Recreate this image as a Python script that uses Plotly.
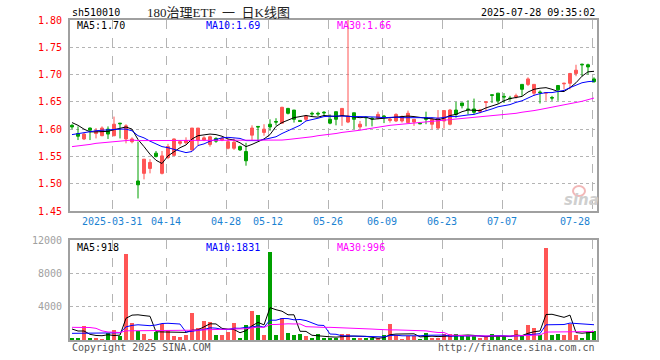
import plotly.graph_objects as go

DAYS = ("03-20 03-21 03-24 03-25 03-26 03-27 03-28 03-31 "
        "04-01 04-02 04-03 04-07 04-08 04-09 04-10 04-11 04-14 04-15 04-16 04-17 04-18 "
        "04-21 04-22 04-23 04-24 04-25 04-28 04-29 04-30 "
        "05-06 05-07 05-08 05-09 05-12 05-13 05-14 05-15 05-16 05-19 05-20 05-21 05-22 05-23 "
        "05-26 05-27 05-28 05-29 05-30 "
        "06-03 06-04 06-05 06-06 06-09 06-10 06-11 06-12 06-13 06-16 06-17 06-18 06-19 06-20 "
        "06-23 06-24 06-25 06-26 06-27 06-30 "
        "07-01 07-02 07-03 07-04 07-07 07-08 07-09 07-10 07-11 07-14 07-15 07-16 07-17 07-18 "
        "07-21 07-22 07-23 07-24 07-25 07-28").split()
dates = ["2025-" + d for d in DAYS]

tick_dates = ["2025-03-31", "2025-04-14", "2025-04-28", "2025-05-12", "2025-05-26",
              "2025-06-09", "2025-06-23", "2025-07-07", "2025-07-28"]
tick_text = ["2025-03-31", "04-14", "04-28", "05-12", "05-26", "06-09", "06-23", "07-07", "07-28"]

price_ticks = [1.45, 1.50, 1.55, 1.60, 1.65, 1.70, 1.75, 1.80]
vol_ticks = [4000, 8000, 12000]

# legend values as printed on the chart
ma_price_labels = ["MA5:1.70", "MA10:1.69", "MA30:1.66"]
ma_vol_labels = ["MA5:918", "MA10:1831", "MA30:996"]

open_ = [1.607, 1.592, 1.582, 1.602, 1.592, 1.588, 1.600, 1.588, 1.611, 1.582,
         1.577, 1.505, 1.519, 1.528, 1.556, 1.519, 1.548, 1.552, 1.574, 1.575,
         1.562, 1.579, 1.580, 1.572, 1.583, 1.580, 1.565, 1.565, 1.568, 1.559,
         1.589, 1.605, 1.594, 1.609, 1.614, 1.611, 1.638, 1.635, 1.616, 1.618,
         1.629, 1.629, 1.631, 1.618, 1.632, 1.624, 1.613, 1.630, 1.604, 1.622,
         1.620, 1.620, 1.624, 1.616, 1.615, 1.615, 1.612, 1.613, 1.611, 1.621,
         1.609, 1.602, 1.615, 1.609, 1.635, 1.648, 1.637, 1.637, 1.632, 1.649,
         1.663, 1.666, 1.660, 1.657, 1.659, 1.682, 1.682, 1.666, 1.668, 1.666,
         1.658, 1.680, 1.683, 1.684, 1.702, 1.719, 1.718, 1.692]
high = [1.609, 1.605, 1.593, 1.603, 1.602, 1.605, 1.605, 1.623, 1.611, 1.609,
        1.585, 1.577, 1.545, 1.545, 1.560, 1.560, 1.573, 1.583, 1.580, 1.585,
        1.602, 1.602, 1.587, 1.588, 1.585, 1.585, 1.582, 1.583, 1.570, 1.575,
        1.607, 1.605, 1.609, 1.618, 1.620, 1.641, 1.639, 1.635, 1.616, 1.626,
        1.632, 1.632, 1.633, 1.627, 1.632, 1.638, 1.800, 1.630, 1.615, 1.622,
        1.622, 1.632, 1.626, 1.621, 1.629, 1.625, 1.634, 1.618, 1.611, 1.632,
        1.621, 1.635, 1.635, 1.637, 1.650, 1.648, 1.653, 1.656, 1.637, 1.650,
        1.663, 1.666, 1.666, 1.661, 1.665, 1.682, 1.695, 1.682, 1.671, 1.667,
        1.661, 1.680, 1.685, 1.703, 1.718, 1.720, 1.720, 1.695]
low = [1.600, 1.580, 1.580, 1.580, 1.583, 1.587, 1.582, 1.587, 1.583, 1.574,
       1.574, 1.473, 1.508, 1.519, 1.548, 1.517, 1.545, 1.551, 1.570, 1.572,
       1.560, 1.569, 1.578, 1.568, 1.575, 1.578, 1.563, 1.562, 1.560, 1.533,
       1.580, 1.579, 1.588, 1.597, 1.607, 1.610, 1.627, 1.612, 1.613, 1.615,
       1.624, 1.624, 1.624, 1.609, 1.607, 1.606, 1.611, 1.600, 1.600, 1.605,
       1.605, 1.618, 1.611, 1.612, 1.613, 1.612, 1.611, 1.606, 1.609, 1.609,
       1.600, 1.600, 1.601, 1.607, 1.621, 1.638, 1.627, 1.627, 1.629, 1.633,
       1.648, 1.647, 1.648, 1.652, 1.656, 1.661, 1.679, 1.661, 1.647, 1.652,
       1.652, 1.652, 1.673, 1.673, 1.697, 1.697, 1.700, 1.685]
close = [1.604, 1.587, 1.591, 1.598, 1.597, 1.602, 1.591, 1.609, 1.610, 1.606,
         1.582, 1.498, 1.545, 1.539, 1.550, 1.551, 1.568, 1.582, 1.577, 1.579,
         1.602, 1.602, 1.584, 1.586, 1.578, 1.583, 1.577, 1.576, 1.562, 1.542,
         1.602, 1.604, 1.600, 1.604, 1.613, 1.640, 1.629, 1.618, 1.614, 1.624,
         1.628, 1.628, 1.630, 1.611, 1.618, 1.638, 1.624, 1.618, 1.609, 1.621,
         1.619, 1.627, 1.623, 1.618, 1.627, 1.623, 1.629, 1.618, 1.610, 1.618,
         1.618, 1.620, 1.634, 1.635, 1.627, 1.643, 1.636, 1.631, 1.635, 1.650,
         1.662, 1.652, 1.659, 1.656, 1.661, 1.673, 1.692, 1.682, 1.667, 1.667,
         1.657, 1.672, 1.684, 1.702, 1.708, 1.718, 1.714, 1.687]
volume = [280, 280, 1680, 280, 200, 120, 880, 1200, 520, 10320,
          2000, 1080, 720, 120, 1000, 1920, 1200, 480, 320, 640,
          3240, 1400, 2280, 2160, 560, 560, 960, 2040, 240, 1800,
          3480, 3000, 560, 10560, 560, 2600, 840, 560, 680, 480,
          280, 680, 200, 280, 280, 760, 720, 280, 200, 200,
          200, 200, 600, 1960, 600, 120, 520, 520, 120, 840,
          280, 280, 680, 680, 760, 440, 440, 440, 200, 440,
          760, 440, 440, 120, 1200, 440, 1800, 1400, 560, 11080,
          600, 760, 600, 1880, 600, 240, 920, 1080]

ma5 = [1.612, 1.607, 1.600, 1.595, 1.595, 1.595, 1.596, 1.599, 1.602, 1.604,
       1.600, 1.581, 1.568, 1.554, 1.543, 1.537, 1.551, 1.558, 1.566, 1.571,
       1.582, 1.588, 1.589, 1.591, 1.590, 1.587, 1.582, 1.580, 1.575, 1.568,
       1.572, 1.577, 1.582, 1.590, 1.605, 1.612, 1.617, 1.621, 1.623, 1.625,
       1.623, 1.622, 1.625, 1.624, 1.623, 1.625, 1.624, 1.622, 1.621, 1.622,
       1.618, 1.619, 1.620, 1.622, 1.623, 1.624, 1.624, 1.623, 1.621, 1.620,
       1.619, 1.617, 1.620, 1.625, 1.627, 1.632, 1.635, 1.634, 1.634, 1.639,
       1.643, 1.646, 1.652, 1.656, 1.658, 1.660, 1.668, 1.673, 1.675, 1.676,
       1.673, 1.669, 1.669, 1.676, 1.685, 1.697, 1.705, 1.706]
ma10 = [1.590, 1.592, 1.594, 1.596, 1.597, 1.598, 1.599, 1.600, 1.600, 1.600,
        1.597, 1.588, 1.584, 1.578, 1.573, 1.568, 1.566, 1.563, 1.560, 1.557,
        1.559, 1.570, 1.573, 1.578, 1.581, 1.584, 1.585, 1.584, 1.583, 1.579,
        1.579, 1.579, 1.581, 1.583, 1.586, 1.592, 1.597, 1.601, 1.607, 1.615,
        1.617, 1.620, 1.623, 1.624, 1.624, 1.624, 1.623, 1.623, 1.623, 1.623,
        1.622, 1.622, 1.621, 1.622, 1.622, 1.621, 1.621, 1.621, 1.622, 1.621,
        1.621, 1.620, 1.622, 1.623, 1.623, 1.625, 1.626, 1.627, 1.630, 1.633,
        1.637, 1.641, 1.643, 1.645, 1.649, 1.652, 1.657, 1.662, 1.665, 1.667,
        1.667, 1.669, 1.671, 1.676, 1.680, 1.685, 1.687, 1.688]
ma30 = [1.568, 1.569, 1.571, 1.572, 1.574, 1.575, 1.576, 1.577, 1.578, 1.579,
        1.580, 1.579, 1.579, 1.579, 1.579, 1.579, 1.579, 1.579, 1.579, 1.579,
        1.579, 1.579, 1.579, 1.579, 1.579, 1.579, 1.579, 1.579, 1.579, 1.579,
        1.579, 1.579, 1.579, 1.579, 1.579, 1.580, 1.581, 1.582, 1.583, 1.585,
        1.586, 1.588, 1.589, 1.591, 1.592, 1.594, 1.595, 1.597, 1.598, 1.600,
        1.602, 1.604, 1.606, 1.607, 1.608, 1.609, 1.610, 1.611, 1.612, 1.613,
        1.614, 1.615, 1.617, 1.618, 1.619, 1.620, 1.621, 1.622, 1.623, 1.624,
        1.625, 1.626, 1.627, 1.628, 1.629, 1.631, 1.632, 1.634, 1.636, 1.638,
        1.640, 1.642, 1.644, 1.646, 1.648, 1.651, 1.654, 1.657]

vma5 = [1320, 1080, 1080, 680, 544, 512, 632, 536, 584, 2608,
        2984, 3024, 2928, 2848, 984, 968, 992, 944, 984, 912,
        1176, 1216, 1576, 1944, 1928, 1392, 1304, 1256, 872, 1120,
        1704, 2112, 1816, 3880, 3632, 3456, 3024, 3024, 1048, 1032,
        568, 536, 464, 384, 344, 440, 448, 464, 448, 432,
        320, 216, 280, 632, 712, 696, 760, 744, 376, 424,
        456, 408, 440, 552, 536, 568, 600, 552, 456, 392,
        456, 456, 456, 440, 592, 528, 800, 992, 1080, 3056,
        3088, 2880, 2720, 2984, 888, 816, 848, 944]
vma10 = [800, 800, 820, 820, 800, 800, 820, 840, 860, 1576,
         1748, 1828, 1732, 1716, 1796, 1976, 2008, 1936, 1916, 948,
         1072, 1104, 1260, 1464, 1420, 1284, 1260, 1416, 1408, 1524,
         1548, 1708, 1536, 2376, 2376, 2580, 2568, 2420, 2464, 2332,
         2012, 1780, 1744, 716, 688, 504, 492, 464, 416, 388,
         380, 332, 372, 540, 572, 508, 488, 512, 504, 568,
         576, 584, 592, 464, 480, 512, 504, 496, 504, 464,
         512, 528, 504, 448, 492, 492, 628, 724, 760, 1824,
         1808, 1840, 1856, 2032, 1972, 1952, 1864, 1832]
vma30 = [1520, 1520, 1520, 1500, 1400, 1100, 960, 920, 900, 1100,
         1100, 1100, 1100, 1100, 1100, 1100, 1100, 1100, 1100, 1120,
         1140, 1180, 1220, 1260, 1280, 1290, 1300, 1320, 1330, 1349,
         1456, 1547, 1509, 1852, 1864, 1947, 1945, 1924, 1929, 1601,
         1544, 1531, 1513, 1519, 1495, 1456, 1440, 1433, 1429, 1415,
         1313, 1273, 1217, 1211, 1212, 1197, 1183, 1132, 1128, 1096,
         989, 899, 903, 573, 580, 508, 495, 491, 475, 473,
         489, 481, 489, 484, 515, 504, 540, 577, 589, 952,
         965, 984, 984, 981, 981, 985, 999, 1017]

# ---------------- styling / layout ----------------
W, H = 660, 360
RED = "#FF5555"
GREEN = "#00A000"
MONO = "DejaVu Sans Mono, monospace"
GRID = "#B4B4B4"
FRAME = "#A0A0A0"

def px(x):
    return x / W

def py(y):
    return 1 - y / H

X_DOM = [px(70), px(597)]
Y_MAIN = [py(211), py(20)]
Y_VOL = [py(340), py(240)]

xs = list(range(len(dates)))
grid_pos = [dates.index(d) - 1 / 3 for d in tick_dates]
bar_colors = [RED if c > o else GREEN for o, c in zip(open_, close)]

fig = go.Figure()
fig.add_trace(go.Candlestick(
    x=xs, open=open_, high=high, low=low, close=close,
    increasing=dict(line=dict(color=RED, width=1), fillcolor=RED),
    decreasing=dict(line=dict(color=GREEN, width=1), fillcolor=GREEN),
    whiskerwidth=0, xaxis="x", yaxis="y", showlegend=False))
for ser, col in ((ma5, "#000000"), (ma10, "#0000FF"), (ma30, "#FF00FF")):
    fig.add_trace(go.Scatter(x=xs, y=ser, mode="lines", line=dict(color=col, width=1),
                             xaxis="x", yaxis="y", showlegend=False, hoverinfo="skip"))

fig.add_trace(go.Bar(x=xs, y=volume, marker=dict(color=bar_colors, line=dict(width=0)),
                     width=0.8, xaxis="x2", yaxis="y2", showlegend=False))
for ser, col in ((vma5, "#000000"), (vma10, "#0000FF"), (vma30, "#FF00FF")):
    fig.add_trace(go.Scatter(x=xs, y=ser, mode="lines", line=dict(color=col, width=1),
                             xaxis="x2", yaxis="y2", showlegend=False, hoverinfo="skip"))

xcommon = dict(domain=X_DOM, range=[-1 / 3, len(dates) - 0.5], tickmode="array",
               tickvals=grid_pos, showticklabels=False, ticks="",
               showgrid=True, gridcolor=GRID, griddash="dash", gridwidth=1,
               zeroline=False, showline=True, mirror=True, linecolor=FRAME, linewidth=2,
               fixedrange=True, automargin=False)

fig.update_layout(
    width=W, height=H, autosize=False,
    margin=dict(l=0, r=0, t=0, b=0, pad=0),
    paper_bgcolor="white", plot_bgcolor="white",
    font=dict(family=MONO, size=10, color="#000"),
    bargap=0,
    xaxis=dict(anchor="y", rangeslider=dict(visible=False), **xcommon),
    xaxis2=dict(anchor="y2", **xcommon),
    yaxis=dict(domain=Y_MAIN, range=[1.45, 1.80], tickmode="array", tickvals=price_ticks,
               ticktext=["%.2f" % v for v in price_ticks], ticks="", ticklabelstandoff=4,
               tickfont=dict(family=MONO, size=10, color="#FF0000"), automargin=False,
               showgrid=True, gridcolor=GRID, griddash="dot", gridwidth=1,
               zeroline=False, showline=True, mirror=True, linecolor=FRAME, linewidth=2),
    yaxis2=dict(domain=Y_VOL, range=[0, 12000], tickmode="array", tickvals=vol_ticks,
                ticktext=[str(v) for v in vol_ticks], ticks="", ticklabelstandoff=4,
                tickfont=dict(family=MONO, size=10, color="#A0A0A0"), automargin=False,
                showgrid=True, gridcolor=GRID, griddash="dot", gridwidth=1,
                zeroline=False, showline=True, mirror=True, linecolor=FRAME, linewidth=2),
)

ann = []
def text(x, y, s, color="#000", size=10, xanchor="left", family=MONO, **kw):
    ann.append(dict(x=px(x), y=py(y), xref="paper", yref="paper", text=s, showarrow=False,
                    xanchor=xanchor, yanchor="middle",
                    font=dict(family=family, size=size, color=color), **kw))

NB = "\u00a0"
text(70, 13, "sh510010")
text(218, 13, "180治理ETF" + NB * 2 + "一" + NB * 2 + "日K线图", color="#222", size=13,
     xanchor="center", family="Liberation Serif, Noto Sans CJK SC, serif")
text(597, 13, "2025-07-28 09:35:02", xanchor="right")
for lab, col, x in zip(ma_price_labels, ("#000000", "#0000FF", "#FF00FF"), (75, 204, 335)):
    text(x, 26, lab, color=col)
for lab, col, x in zip(ma_vol_labels, ("#000000", "#0000FF", "#FF00FF"), (75, 204, 335)):
    text(x, 247, lab, color=col)
text(70, 347, "Copyright 2025 SINA.COM", color="#555")
text(597, 347, "http://finance.sina.com.cn", xanchor="right", color="#555")
# faint sina watermark
text(581, 200, "<b><i>sina</i></b>", color="#CFCFCF", size=15, xanchor="center",
     family="DejaVu Sans, sans-serif")

for d, t in zip(tick_dates, tick_text):
    k = dates.index(d) - 1 / 3
    ann.append(dict(x=k, y=py(221.5), xref="x", yref="paper", text=t, showarrow=False,
                    xanchor="right" if d == dates[-1] else "center", yanchor="middle",
                    font=dict(family=MONO, size=10, color="#1B82D2")))

fig.update_layout(
    annotations=ann,
    shapes=[dict(type="circle", xref="paper", yref="paper",
                 x0=px(573), x1=px(585), y0=py(196), y1=py(186),
                 line=dict(color="#F2B8B8", width=2), layer="below")],
)
fig.write_html("out.html", config={"displayModeBar": False},
               post_script="document.body.style.margin='0';")
